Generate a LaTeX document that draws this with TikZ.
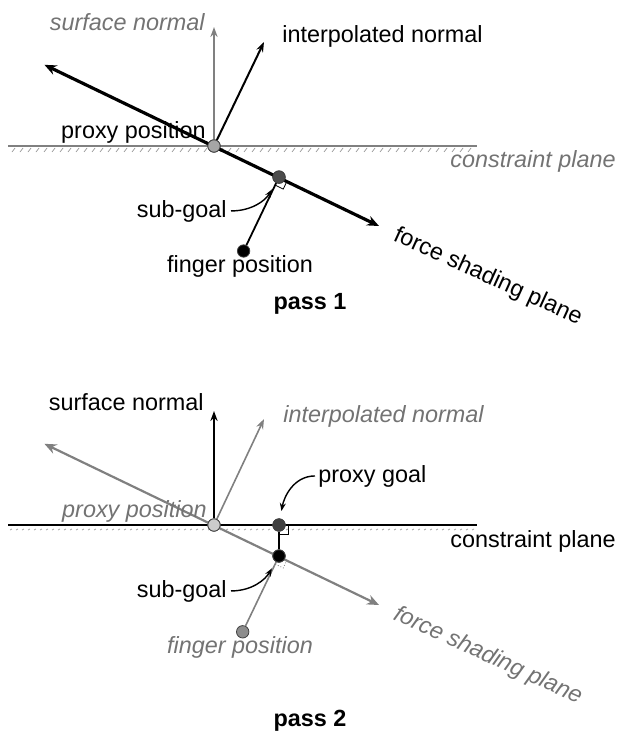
\documentclass[tikz,border=0pt]{standalone}
\usepackage{fontspec}
\setmainfont{Liberation Sans}
\usetikzlibrary{arrows.meta}
\tikzset{
  lbl/.style={inner sep=0pt, font=\fontsize{11.7}{14}\selectfont},
  glbl/.style={inner sep=0pt, text=black!55, font=\fontsize{11.7}{14}\selectfont\itshape},
  passlbl/.style={inner sep=0pt, font=\fontsize{11.7}{14}\selectfont\bfseries},
  dot/.style={circle, inner sep=0pt, minimum size=6.2pt, draw=black!75, fill=#1, line width=0.4pt},
  bigarr/.style={{Stealth[length=6pt,width=5pt]}-{Stealth[length=6pt,width=5pt]}},
  arr/.style={-{Stealth[length=5pt,width=3.6pt]}},
  smallarr/.style={-{Stealth[length=4pt,width=3pt]}},
  hatch/.style={black!40, line width=0.35pt},
}
\begin{document}
\begin{tikzpicture}[x=0.5pt,y=-0.5pt]
\useasboundingbox (0,0) rectangle (619,738);

% ================= PASS 1 =================
\coordinate (cpL1) at (8,146);
\coordinate (cpR1) at (477,146);
\coordinate (snT1) at (214,27);
\coordinate (inT1) at (264,42);
\coordinate (fsA1) at (44.4,64.8);
\coordinate (fsB1) at (379,226);
% constraint plane (grey) with hatching
\draw[black!50, line width=1pt] (cpL1) -- (cpR1);
\foreach \x in {12,20,...,470} \draw[hatch] (\x,152) -- (\x+3,148);
% nodes
\node[dot=black!35] (P1) at (214,146) {};
\node[dot=black!70] (S1) at (279,177.1) {};
\node[dot=black] (F1) at (243.6,251) {};
% normals
\draw[arr, black!50, line width=0.8pt] (P1) -- (snT1);
\draw[arr, black, line width=1pt] (P1) -- (inT1);
% force shading plane
\draw[bigarr, black, line width=1.6pt] (fsA1) -- (fsB1);
% finger to subgoal
\draw[black, line width=0.9pt] (F1) -- (S1);
\draw[black, line width=0.4pt] (287.1,181) -- (283.2,189.1) -- (275.1,185.1);
\node[dot=black!70] at (S1) {};
\node[dot=black!35] at (P1) {};
% labels
\node[glbl, anchor=base east] (snL1) at (205,31) {surface normal};
\node[lbl, anchor=base west] (inL1) at (282,43) {interpolated normal};
\node[lbl, anchor=base east] (ppL1) at (206,139) {proxy position};
\node[glbl, anchor=base west] (cpL1t) at (450,167) {constraint plane};
\node[lbl, anchor=base west, rotate=-24.5] (fsL1) at (392,240) {force shading plane};
\node[lbl, anchor=base east] (sgL1) at (227,217) {sub-goal};
\node[lbl, anchor=base] (fpL1) at (240,272) {finger position};
\node[passlbl, anchor=base] (pass1) at (310,309) {pass 1};
\draw[smallarr, black, line width=0.7pt, shorten >=3.8pt] ([xshift=2pt]sgL1.east) to[out=0, in=240] (S1);

% ================= PASS 2 =================
\coordinate (cpL2) at (8,525);
\coordinate (cpR2) at (477,525);
\coordinate (snT2) at (214,411);
\coordinate (inT2) at (264,419);
\coordinate (fsA2) at (44.4,443.8);
\coordinate (fsB2) at (379,605);
% constraint plane (black) with dotted hatching
\foreach \x in {10,16,...,472} \draw[black!35, line width=0.35pt] (\x,530) -- (\x+2,529);
\draw[black, line width=1pt] (cpL2) -- (cpR2);
% nodes
\node[dot=black!20] (P2) at (214,525) {};
\node[dot=black!75] (G2) at (279,525) {};
\node[dot=black] (S2) at (279,556) {};
\node[dot=black!45] (F2) at (242.7,631.8) {};
% normals
\draw[arr, black, line width=1pt] (P2) -- (snT2);
\draw[arr, black!50, line width=0.8pt] (P2) -- (inT2);
% force shading plane
\draw[bigarr, black!50, line width=1.1pt] (fsA2) -- (fsB2);
% finger to subgoal, subgoal to proxy goal
\draw[black!50, line width=0.8pt] (F2) -- (S2);
\draw[black, line width=1pt] (S2) -- (G2);
\draw[black, line width=0.4pt] (288,525) -- (288,534) -- (279,534);
\draw[black!50, line width=0.4pt, densely dotted] (287.1,560) -- (283.2,568) -- (275.1,564);
\node[dot=black!20] at (P2) {};
\node[dot=black!75] at (G2) {};
\node[dot=black] at (S2) {};
% labels
\node[lbl, anchor=base east] (snL2) at (204,410) {surface normal};
\node[glbl, anchor=base west] (inL2) at (283,422) {interpolated normal};
\node[glbl, anchor=base east] (ppL2) at (207,517) {proxy position};
\node[lbl, anchor=base west] (pgL2) at (318,482) {proxy goal};
\node[lbl, anchor=base west] (cpL2t) at (450,547) {constraint plane};
\node[glbl, anchor=base west, rotate=-24.5] (fsL2) at (392,619) {force shading plane};
\node[lbl, anchor=base east] (sgL2) at (227,597) {sub-goal};
\node[glbl, anchor=base] (fpL2) at (240,653) {finger position};
\node[passlbl, anchor=base] (pass2) at (310,726) {pass 2};
\draw[smallarr, black, line width=0.7pt, shorten >=3.8pt] ([xshift=2pt]sgL2.east) to[out=0, in=240] (S2);
\draw[smallarr, black, line width=0.7pt, shorten >=3.8pt] ([xshift=-1.5pt]pgL2.west) to[out=180, in=80] (G2);
\end{tikzpicture}
\end{document}
